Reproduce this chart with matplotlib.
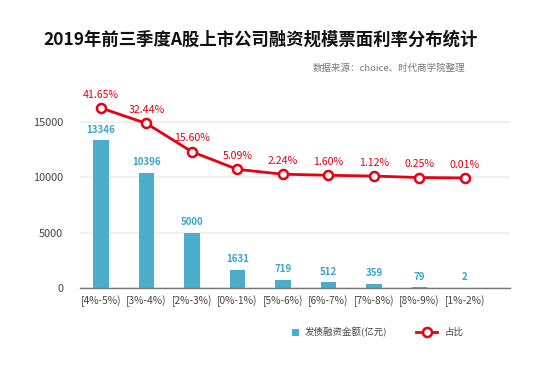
import matplotlib
matplotlib.use("Agg")
import matplotlib.pyplot as plt
from matplotlib.lines import Line2D
from matplotlib.patches import Rectangle

plt.rcParams['font.family'] = ['Noto Sans CJK SC', 'DejaVu Sans']

categories = ["[4%-5%)", "[3%-4%)", "[2%-3%)", "[0%-1%)", "[5%-6%)", "[6%-7%)", "[7%-8%)", "[8%-9%)", "[1%-2%)"]
amounts = [13346, 10396, 5000, 1631, 719, 512, 359, 79, 2]
shares = [41.65, 32.44, 15.60, 5.09, 2.24, 1.60, 1.12, 0.25, 0.01]
yticks = [0, 5000, 10000, 15000]
legend_labels = ["发债融资金额(亿元)", "占比"]

bar_color = "#4BACCB"
red = "#E60012"

W, H = 550, 368
fig = plt.figure(figsize=(5.5, 3.68), dpi=100)
ax = fig.add_axes([80/W, 1-288/H, 430/W, 188/H])
x = list(range(len(categories)))
ax.bar(x, amounts, width=0.34, color=bar_color, zorder=2)
ax.set_xlim(-0.46, 8.99)
ax.set_ylim(0, 17000)
ax.set_yticks(yticks)
ax.set_yticklabels([str(v) for v in yticks])
ax.set_xticks(x)
ax.set_xticklabels(categories)
ax.grid(axis='y', color='#EEEEEE', linewidth=1.2, zorder=0)
for s in ['left', 'right', 'top']:
    ax.spines[s].set_visible(False)
ax.spines['bottom'].set_color('#777777')
ax.spines['bottom'].set_linewidth(1.0)
ax.tick_params(axis='both', length=0, labelcolor='#444444')
ax.tick_params(axis='x', pad=5, labelsize=7.3)
ax.tick_params(axis='y', pad=12, labelsize=7.9)
for xi, v in zip(x, amounts):
    ax.annotate(str(v), (xi, v), xytext=(0, 4), textcoords='offset points',
                ha='center', va='bottom', fontsize=7, color='#3AA6CC', fontweight='bold')

ax2 = ax.twinx()
ax2.set_ylim(-65.5, 46.4)
ax2.axis('off')
ax2.plot(x, shares, color=red, linewidth=2, marker='o', markersize=6.5,
         markerfacecolor='white', markeredgecolor=red, markeredgewidth=1.8, zorder=3)
for xi, v in zip(x, shares):
    ax2.annotate(f"{v:.2f}%", (xi, v), xytext=(0, 6), textcoords='offset points',
                 ha='center', va='bottom', fontsize=7.6, color=red)

fig.text(261/W, 1-40/H, "2019年前三季度A股上市公司融资规模票面利率分布统计",
         ha='center', va='center', fontsize=12.5, fontweight='bold', color='#111111')
fig.text(465/W, 1-68/H, "数据来源：choice、时代商学院整理",
         ha='right', va='center', fontsize=6.8, color='#777777')

# legend
ly = 1-332/H
fig.patches.append(Rectangle((292/W, ly-3.5/H), 7/W, 7/H, transform=fig.transFigure,
                             facecolor=bar_color, edgecolor='none'))
fig.text(305/W, ly, legend_labels[0], ha='left', va='center', fontsize=6.8, color='#444444')
fig.lines.append(Line2D([416/W, 437/W], [ly, ly], transform=fig.transFigure, color=red,
                        linewidth=2, zorder=3))
fig.lines.append(Line2D([426.5/W], [ly], transform=fig.transFigure, color=red, marker='o',
                        markersize=6.5, markerfacecolor='white', markeredgecolor=red,
                        markeredgewidth=1.8, zorder=4))
fig.text(445/W, ly, legend_labels[1], ha='left', va='center', fontsize=6.8, color='#444444')

fig.savefig("out.png", dpi=100)
